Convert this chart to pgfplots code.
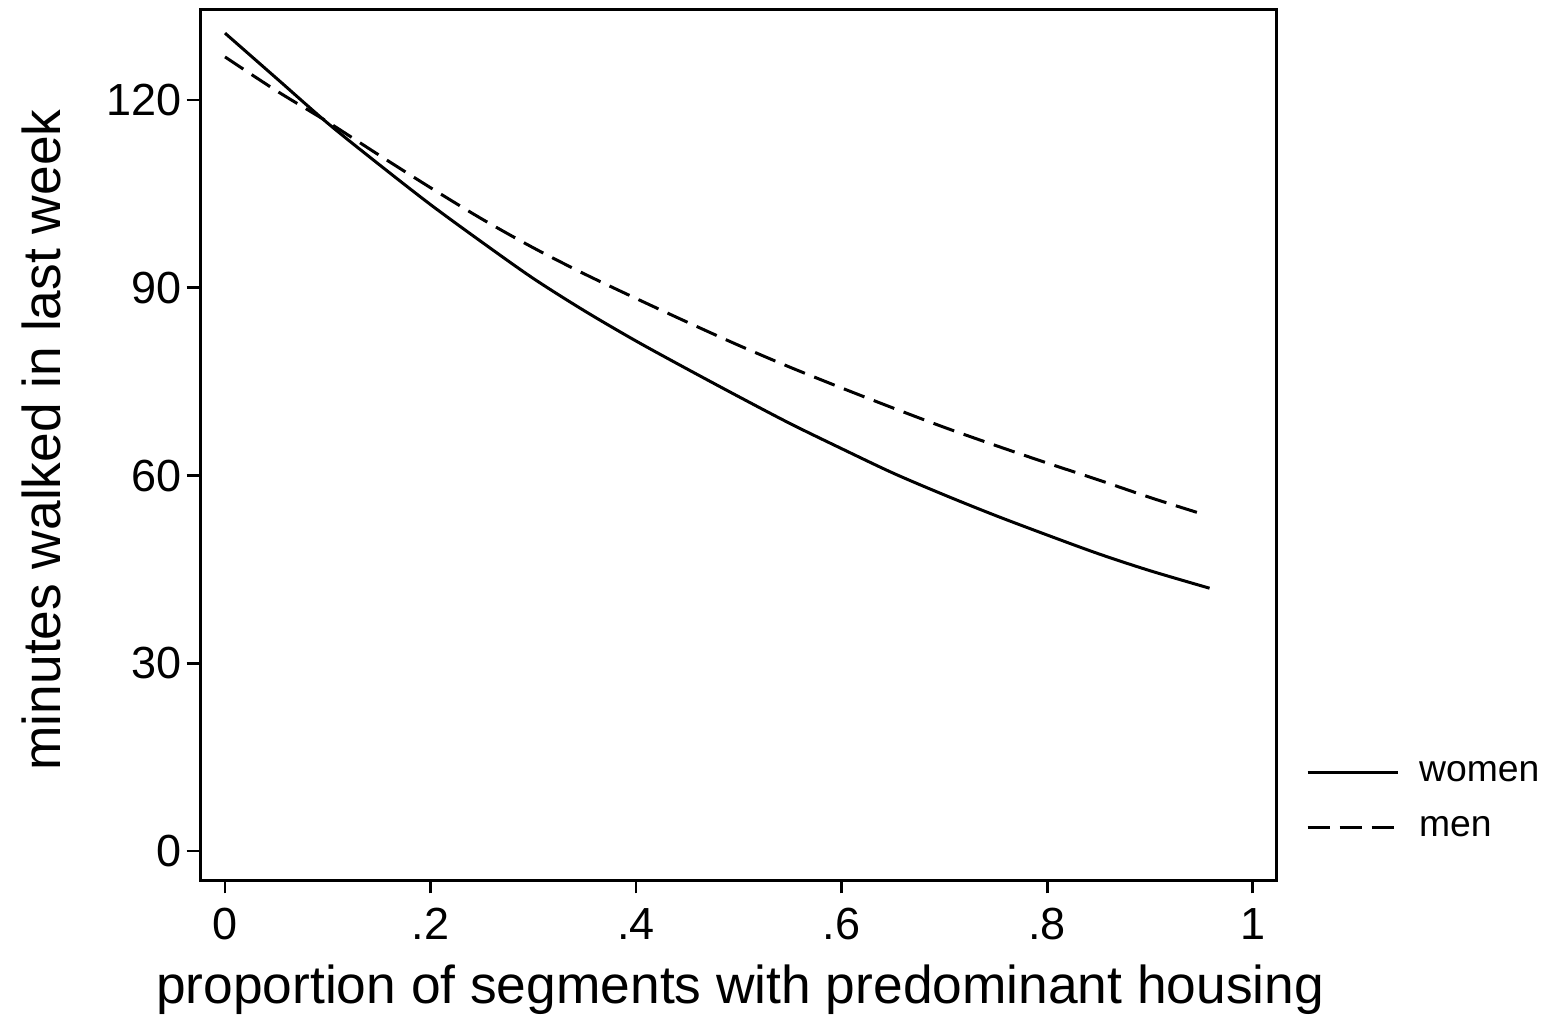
\documentclass[border=0pt]{standalone}
\usepackage{pgfplots}
\pgfplotsset{compat=1.18}
\usepackage{fontspec}
\setmainfont{Liberation Sans}
\begin{document}
\begin{tikzpicture}
\begin{axis}[
  scale only axis,
  width=322.8pt, height=261pt,
  xmin=-0.0243, xmax=1.0227,
  ymin=-4.63, ymax=134.4,
  clip=false,
  axis line style={line width=0.9pt},
  tick style={line width=0.8pt, black},
  tick align=outside,
  major tick length=4pt,
  xtick={0,0.2,0.4,0.6,0.8,1},
  xticklabels={0,.2,.4,.6,.8,1},
  ytick={0,30,60,90,120},
  xtick pos=bottom, ytick pos=left,
  /pgf/number format/assume math mode=true,
  tick label style={font=\fontsize{13.5pt}{16pt}\selectfont},
  xticklabel style={yshift=-1pt},
  yticklabel style={xshift=2pt},
  xlabel={proportion of segments with predominant housing},
  ylabel={minutes walked in last week},
  label style={font=\fontsize{16pt}{19pt}\selectfont},
  xlabel style={at={(axis description cs:0.502,-0.1414)}, anchor=base},
  ylabel style={at={(axis description cs:-0.130,0.5057)}, anchor=base},
  legend style={at={(axis description cs:1.0279,0.092)}, anchor=west, draw=none, fill=none,
    inner sep=0pt, outer sep=0pt, font=\fontsize{11.2pt}{13pt}\selectfont,
    nodes={inner sep=0pt, text height=8pt, text depth=2.5pt},
    row sep=6pt,
    /tikz/every odd column/.append style={column sep=6pt}},
  legend cell align=left,
  legend image code/.code={\draw[#1] (0pt,0pt) -- (27pt,0pt);},
]
\addplot[black, line width=0.9pt, smooth, tension=0.5] coordinates {
(0,130.7) (0.05,123.5) (0.1,116.3) (0.15,109.7) (0.2,103.3) (0.25,97.3)
(0.3,91.5) (0.35,86.3) (0.4,81.5) (0.45,77.0) (0.5,72.6) (0.55,68.3)
(0.6,64.3) (0.65,60.4) (0.7,56.9) (0.75,53.6) (0.8,50.5) (0.85,47.5)
(0.9,44.8) (0.958,42.0)};
\addlegendentry{women}
\addplot[black, line width=0.9pt, smooth, tension=0.5, dash pattern=on 6.6pt off 3pt] coordinates {
(0,126.9) (0.05,121.5) (0.1,116.5) (0.15,111.2) (0.2,106.0) (0.25,101.0)
(0.3,96.4) (0.35,92.2) (0.4,88.3) (0.45,84.5) (0.5,80.8) (0.55,77.3)
(0.6,74.0) (0.65,70.8) (0.7,67.7) (0.75,64.8) (0.8,62.0) (0.85,59.3)
(0.9,56.5) (0.95,53.9)};
\addlegendentry{men}
\path (rel axis cs:-0.1859,-0.1563) rectangle (rel axis cs:1.2537,1.0115);
\end{axis}
\end{tikzpicture}
\end{document}
